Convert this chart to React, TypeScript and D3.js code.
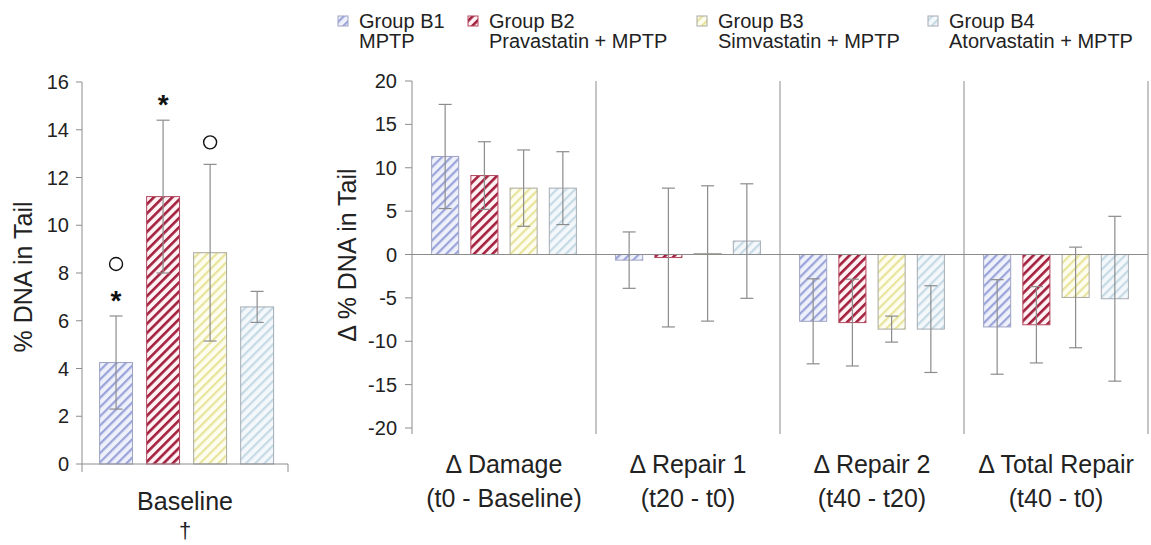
import { scaleBand, scaleLinear } from 'd3'

// legend / series
const groupNames = ['Group B1', 'Group B2', 'Group B3', 'Group B4']
const treatmentNames = ['MPTP', 'Pravastatin + MPTP', 'Simvastatin + MPTP', 'Atorvastatin + MPTP']

// left panel: baseline % DNA in tail
const baselineLabel = 'Baseline'
const baselineNote = '†'
const baselineMeans = [4.25, 11.2, 8.85, 6.58]
const baselineSd = [1.95, 3.2, 3.7, 0.65]
const baselineMarks = [['*', '○'], ['*'], ['○'], []]
const baselineTicks = [0, 2, 4, 6, 8, 10, 12, 14, 16]

// right panel: changes between time points
const phaseTitles = ['Δ Damage', 'Δ Repair 1', 'Δ Repair 2', 'Δ Total Repair']
const phaseSpans = ['(t0 - Baseline)', '(t20 - t0)', '(t40 - t20)', '(t40 - t0)']
const damageMeans = [11.3, 9.1, 7.65, 7.65]
const damageSd = [6.0, 3.9, 4.4, 4.2]
const repair1Means = [-0.65, -0.35, 0.12, 1.55]
const repair1Sd = [3.25, 8.0, 7.8, 6.6]
const repair2Means = [-7.7, -7.85, -8.6, -8.6]
const repair2Sd = [4.9, 5.0, 1.5, 5.0]
const totalMeans = [-8.35, -8.1, -4.95, -5.1]
const totalSd = [5.45, 4.4, 5.8, 9.5]
const deltaTicks = [-20, -15, -10, -5, 0, 5, 10, 15, 20]

const phaseMeans = [damageMeans, repair1Means, repair2Means, totalMeans]
const phaseSd = [damageSd, repair1Sd, repair2Sd, totalSd]

// styles
const seriesFill = ['#eef0fa', '#fff2f4', '#fdfdf0', '#f4f8fb']
const seriesStripe = ['#9aa3da', '#a3203e', '#e8e49c', '#c6dae6']
const seriesStroke = ['#9ea3c4', '#b2485f', '#aaa9a0', '#a4acb4']
const stripeWidth = [2.2, 2.6, 2.2, 2.2]

const width = 1151
const height = 545
const font = '"Liberation Sans", Arial, sans-serif'
const axisColor = '#8c8c8c'
const legendLeft = [338, 468, 697, 928]

const left = { x0: 82, x1: 288, y0: 464, y1: 82 }
const right = { x0: 412, x1: 1148, y0: 428, y1: 81 }

function ErrorBar({ x, yTop, yBottom }: { x: number; yTop: number; yBottom: number }) {
  const cap = 6.5
  return (
    <g stroke={axisColor} strokeWidth={1.2}>
      <line x1={x} x2={x} y1={yTop} y2={yBottom} />
      <line x1={x - cap} x2={x + cap} y1={yTop} y2={yTop} />
      <line x1={x - cap} x2={x + cap} y1={yBottom} y2={yBottom} />
    </g>
  )
}

export default function App() {
  const baseX = scaleBand()
    .domain(groupNames)
    .range([left.x0, left.x1])
    .paddingInner(0.3)
    .paddingOuter(0.34)
    .align(0.55)
  const baseY = scaleLinear().domain([0, 16]).range([left.y0, left.y1])

  const phaseX = scaleBand().domain(phaseTitles).range([right.x0, right.x1])
  const innerX = scaleBand()
    .domain(groupNames)
    .range([0, phaseX.bandwidth()])
    .paddingInner(0.31)
    .paddingOuter(0.5)
  const deltaY = scaleLinear().domain([-20, 20]).range([right.y0, right.y1])

  return (
    <>
      <style>{'body{margin:0}'}</style>
      <svg width={width} height={height} viewBox={`0 0 ${width} ${height}`} fontFamily={font}>
        <defs>
          {groupNames.map((g, i) => (
            <pattern
              key={g}
              id={`hatch-${i}`}
              width={6.5}
              height={6.5}
              patternUnits="userSpaceOnUse"
              patternTransform="rotate(45)"
            >
              <rect width={6.5} height={6.5} fill={seriesFill[i]} />
              <rect width={stripeWidth[i]} height={6.5} fill={seriesStripe[i]} />
            </pattern>
          ))}
        </defs>
        <rect width={width} height={height} fill="#fff" />

        {/* legend */}
        {groupNames.map((g, i) => (
          <g key={g} fontSize={20} fill="#222">
            <rect
              x={legendLeft[i]}
              y={16}
              width={10}
              height={10}
              fill={`url(#hatch-${i})`}
              stroke={seriesStroke[i]}
              strokeWidth={1}
            />
            <text x={legendLeft[i] + 21} y={28}>
              {g}
            </text>
            <text x={legendLeft[i] + 21} y={48}>
              {treatmentNames[i]}
            </text>
          </g>
        ))}

        {/* left panel */}
        <g>
          {baselineTicks.map((t) => (
            <g key={t}>
              <line x1={left.x0 - 6} x2={left.x0} y1={baseY(t)} y2={baseY(t)} stroke={axisColor} />
              <text x={left.x0 - 13} y={baseY(t)} dy="0.35em" textAnchor="end" fontSize={20} fill="#222">
                {t}
              </text>
            </g>
          ))}
          {groupNames.map((g, i) => {
            const x = baseX(g) ?? 0
            const y = baseY(baselineMeans[i])
            return (
              <rect
                key={g}
                x={x}
                y={y}
                width={baseX.bandwidth()}
                height={baseY(0) - y}
                fill={`url(#hatch-${i})`}
                stroke={seriesStroke[i]}
                strokeWidth={1}
              />
            )
          })}
          {groupNames.map((g, i) => {
            const cx = (baseX(g) ?? 0) + baseX.bandwidth() / 2
            const top = baseY(baselineMeans[i] + baselineSd[i])
            return (
              <g key={`${g}-err`}>
                <ErrorBar x={cx} yTop={top} yBottom={baseY(baselineMeans[i] - baselineSd[i])} />
                {baselineMarks[i].map((m, k) => {
                  const cy = top - 22 - k * 30
                  return m === '○' ? (
                    <circle key={k} cx={cx} cy={cy} r={6.5} fill="none" stroke="#111" strokeWidth={1.4} />
                  ) : (
                    <text key={k} x={cx} y={cy + 16} textAnchor="middle" fontSize={28} fontWeight="bold" fill="#111">
                      *
                    </text>
                  )
                })}
              </g>
            )
          })}
          <line x1={left.x0} x2={left.x0} y1={left.y1} y2={left.y0 + 8} stroke={axisColor} />
          <line x1={left.x0} x2={left.x1} y1={left.y0} y2={left.y0} stroke={axisColor} />
          <line x1={left.x1} x2={left.x1} y1={left.y0} y2={left.y0 + 8} stroke={axisColor} />
          <text x={(left.x0 + left.x1) / 2} y={510} textAnchor="middle" fontSize={25} fill="#222">
            {baselineLabel}
          </text>
          <text x={(left.x0 + left.x1) / 2} y={538} textAnchor="middle" fontSize={22} fill="#222">
            {baselineNote}
          </text>
          <text
            transform={`translate(32, 277) rotate(-90)`}
            textAnchor="middle"
            fontSize={25}
            fill="#222"
          >
            % DNA in Tail
          </text>
        </g>

        {/* right panel */}
        <g>
          {deltaTicks.map((t) => (
            <g key={t}>
              <line x1={right.x0 - 7} x2={right.x0} y1={deltaY(t)} y2={deltaY(t)} stroke={axisColor} />
              <text x={right.x0 - 15} y={deltaY(t)} dy="0.35em" textAnchor="end" fontSize={20} fill="#222">
                {t}
              </text>
            </g>
          ))}
          {phaseTitles.map((p, j) => {
            const gx = phaseX(p) ?? 0
            return (
              <g key={p}>
                {groupNames.map((g, i) => {
                  const v = phaseMeans[j][i]
                  const y = Math.min(deltaY(0), deltaY(v))
                  return (
                    <rect
                      key={g}
                      x={gx + (innerX(g) ?? 0)}
                      y={y}
                      width={innerX.bandwidth()}
                      height={Math.abs(deltaY(v) - deltaY(0))}
                      fill={`url(#hatch-${i})`}
                      stroke={seriesStroke[i]}
                      strokeWidth={1}
                    />
                  )
                })}
              </g>
            )
          })}
          <line x1={right.x0} x2={right.x1} y1={deltaY(0)} y2={deltaY(0)} stroke={axisColor} />
          {phaseTitles.map((p, j) => {
            const gx = phaseX(p) ?? 0
            return (
              <g key={`${p}-err`}>
                {groupNames.map((g, i) => {
                  const v = phaseMeans[j][i]
                  const s = phaseSd[j][i]
                  return (
                    <ErrorBar
                      key={g}
                      x={gx + (innerX(g) ?? 0) + innerX.bandwidth() / 2}
                      yTop={deltaY(v + s)}
                      yBottom={deltaY(v - s)}
                    />
                  )
                })}
              </g>
            )
          })}
          <line x1={right.x0} x2={right.x0} y1={right.y1} y2={right.y0 + 6} stroke={axisColor} />
          {phaseTitles.map((p) => {
            const xEnd = (phaseX(p) ?? 0) + phaseX.bandwidth()
            return (
              <line key={`${p}-sep`} x1={xEnd} x2={xEnd} y1={right.y1} y2={right.y0 + 6} stroke={axisColor} />
            )
          })}
          {phaseTitles.map((p, j) => {
            const cx = (phaseX(p) ?? 0) + phaseX.bandwidth() / 2
            return (
              <g key={`${p}-label`} fontSize={25} fill="#222" textAnchor="middle">
                <text x={cx} y={473}>
                  {p}
                </text>
                <text x={cx} y={507}>
                  {phaseSpans[j]}
                </text>
              </g>
            )
          })}
          <text
            transform={`translate(356, 255) rotate(-90)`}
            textAnchor="middle"
            fontSize={25}
            fill="#222"
          >
            Δ % DNA in Tail
          </text>
        </g>
      </svg>
    </>
  )
}
